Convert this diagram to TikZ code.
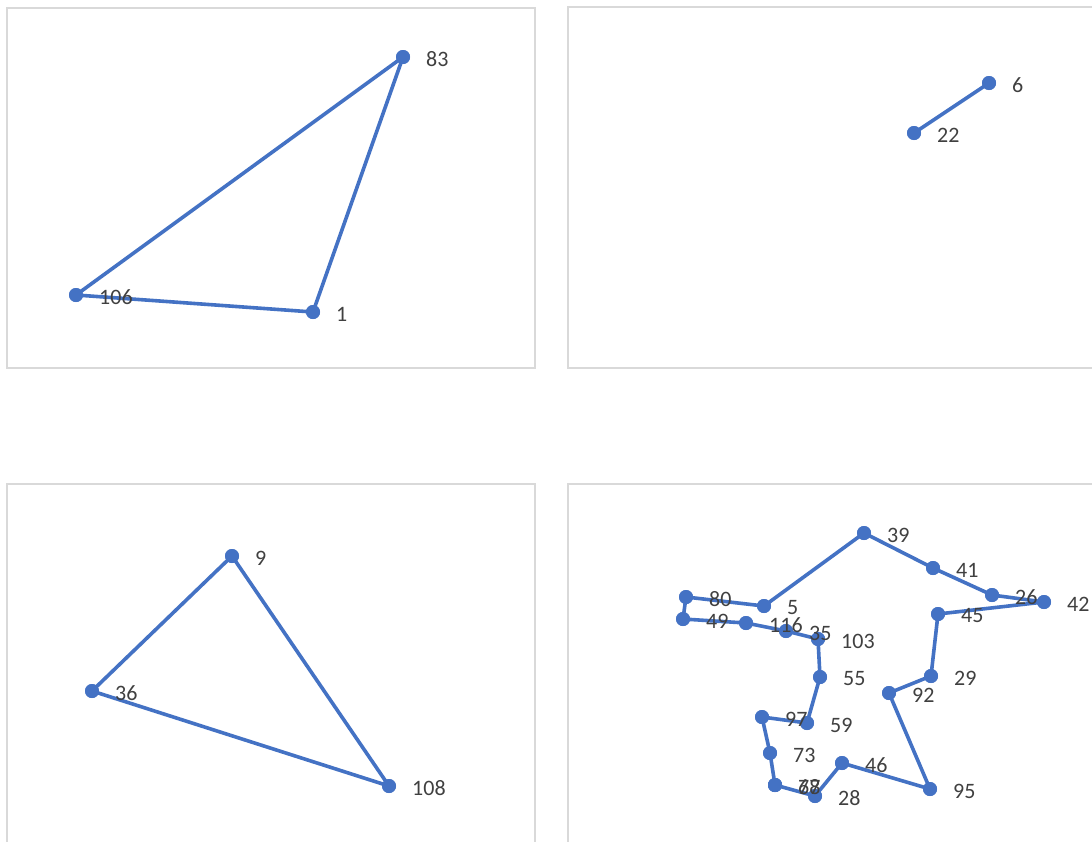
\documentclass[tikz,border=0pt]{standalone}
\usepackage{fontspec}
\setmainfont{Carlito}
\definecolor{lineblue}{HTML}{4472C4}
\definecolor{framegray}{HTML}{D9D9D9}
\definecolor{labelgray}{HTML}{404040}
\tikzset{
  panel/.style={draw=framegray, line width=1.5pt, fill=white},
  dot/.style={circle, fill=lineblue, inner sep=0pt, minimum size=14pt},
  route/.style={draw=lineblue, line width=3.6pt, line join=round, line cap=round},
  lbl/.style={anchor=west, inner sep=0pt, text=labelgray, font=\fontsize{22}{26}\selectfont}
}
\newcommand{\pt}[3]{\node[dot] (#1) at (#2) {};}
\newcommand{\lab}[2]{\node[lbl] (l#1) at ([xshift=23pt,yshift=-2pt]#1.center) {#2};}
\begin{document}
\begin{tikzpicture}[x=1pt,y=-1pt]
\useasboundingbox (0,0) rectangle (1092,841);
\clip (0,0) rectangle (1092,841);
\fill[white] (0,0) rectangle (1092,841);
% panels
\draw[panel] (7,8) rectangle (535,368);
\draw[panel] (568,7) rectangle (1110,368);
\draw[panel] (7,484) rectangle (535,860);
\draw[panel] (568,484) rectangle (1110,860);

% ---- top-left ----
\pt{p83}{403,57}{} \pt{p106}{76,295}{} \pt{p1}{313,312}{}
% ---- top-right ----
\pt{p6}{989,83}{} \pt{p22}{914,133}{}
% ---- bottom-left ----
\pt{p9}{232,556}{} \pt{p36}{92,691}{} \pt{p108}{389,786}{}
% ---- bottom-right ----
\pt{q39}{864,533}{} \pt{q41}{933,568}{} \pt{q26}{992,595}{} \pt{q42}{1044,602}{}
\pt{q45}{938,614}{} \pt{q29}{931,676}{} \pt{q92}{889,693}{} \pt{q95}{930,789}{}
\pt{q46}{842,763}{} \pt{q28}{815,796}{} \pt{q68}{775,785}{} \pt{q77}{775,785}{}
\pt{q73}{770,753}{} \pt{q97}{762,717}{} \pt{q59}{807,723}{} \pt{q55}{820,677}{}
\pt{q103}{818,639}{} \pt{q35}{786,631}{} \pt{q116}{746,623}{} \pt{q49}{683,619}{}
\pt{q80}{686,597}{} \pt{q5}{764,606}{}

% routes
\draw[route] (p83.center) -- (p106.center) -- (p1.center) -- cycle;
\draw[route] (p22.center) -- (p6.center);
\draw[route] (p9.center) -- (p36.center) -- (p108.center) -- cycle;
\draw[route] (q39.center) -- (q41.center) -- (q26.center) -- (q42.center) -- (q45.center)
  -- (q29.center) -- (q92.center) -- (q95.center) -- (q46.center) -- (q28.center)
  -- (q68.center) -- (q77.center) -- (q73.center) -- (q97.center) -- (q59.center)
  -- (q55.center) -- (q103.center) -- (q35.center) -- (q116.center) -- (q49.center)
  -- (q80.center) -- (q5.center) -- cycle;

% redraw markers on top
\foreach \n in {p83,p106,p1,p6,p22,p9,p36,p108,q39,q41,q26,q42,q45,q29,q92,q95,q46,q28,q68,q77,q73,q97,q59,q55,q103,q35,q116,q49,q80,q5}
  \fill[lineblue] (\n.center) circle (7pt);

% labels
\lab{p83}{83} \lab{p106}{106} \lab{p1}{1}
\lab{p6}{6} \lab{p22}{22}
\lab{p9}{9} \lab{p36}{36} \lab{p108}{108}
\lab{q39}{39} \lab{q41}{41} \lab{q26}{26} \lab{q42}{42} \lab{q45}{45}
\lab{q29}{29} \lab{q92}{92} \lab{q95}{95} \lab{q46}{46} \lab{q28}{28}
\lab{q68}{68} \lab{q77}{77} \lab{q73}{73} \lab{q97}{97} \lab{q59}{59}
\lab{q55}{55} \lab{q103}{103} \lab{q35}{35} \lab{q116}{116} \lab{q49}{49}
\lab{q80}{80} \lab{q5}{5}
\end{tikzpicture}
\end{document}
